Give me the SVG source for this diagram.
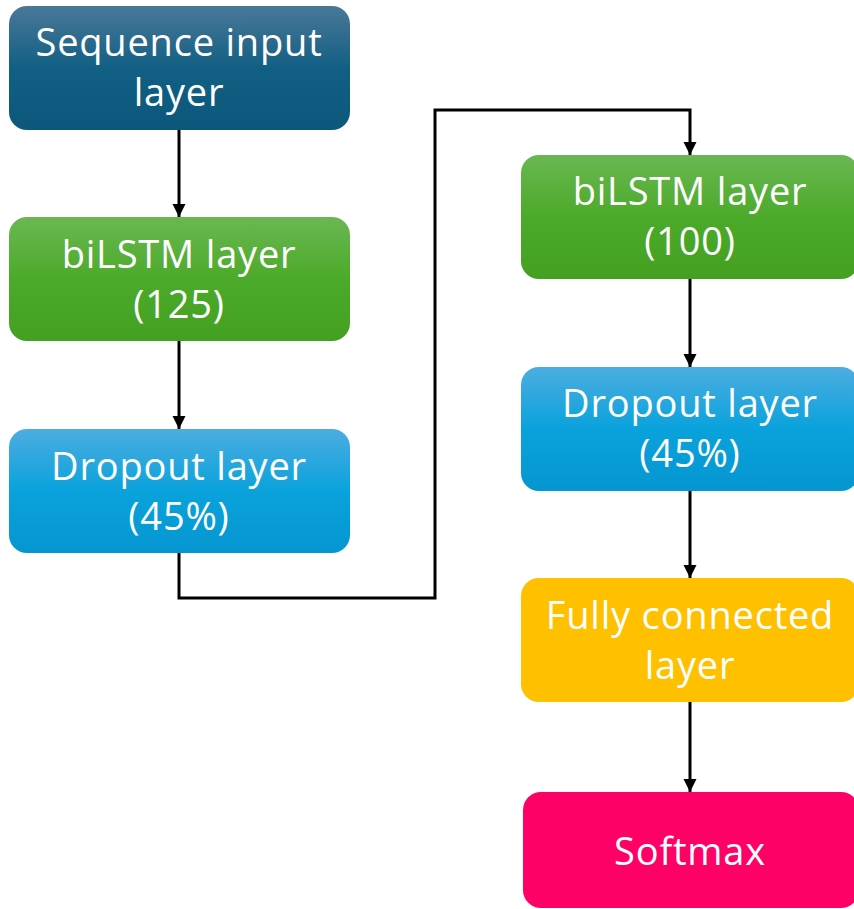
<svg xmlns="http://www.w3.org/2000/svg" width="854" height="909" viewBox="0 0 854 909">
<defs>
<linearGradient id="gNavy" x1="0" y1="0" x2="0" y2="1"><stop offset="0" stop-color="#4a7898"/><stop offset="0.5" stop-color="#125f84"/><stop offset="1" stop-color="#0b587c"/></linearGradient>
<linearGradient id="gGreen" x1="0" y1="0" x2="0" y2="1"><stop offset="0" stop-color="#6ab752"/><stop offset="0.5" stop-color="#4caa2a"/><stop offset="1" stop-color="#43a020"/></linearGradient>
<linearGradient id="gBlue" x1="0" y1="0" x2="0" y2="1"><stop offset="0" stop-color="#4cade0"/><stop offset="0.5" stop-color="#0aa2dc"/><stop offset="1" stop-color="#0596d0"/></linearGradient>
<marker id="arr" viewBox="0 0 10 10" refX="10" refY="5" markerWidth="4.4" markerHeight="4.4" orient="auto" markerUnits="strokeWidth"><path d="M0,0 L10,5 L0,10 z" fill="#000"/></marker>
</defs>
<style>
text{font-family:"Open Sans","Noto Sans",sans-serif;font-size:38px;letter-spacing:0.8px;fill:#fff;text-anchor:middle}
.c{fill:none;stroke:#000;stroke-width:3}
</style>
<rect width="854" height="909" fill="#fff"/>
<g id="connectors">
<path class="c" d="M179,130 V217" marker-end="url(#arr)"/>
<path class="c" d="M179,341 V429" marker-end="url(#arr)"/>
<path class="c" d="M179,553 V598 H435 V110 H690 V155" marker-end="url(#arr)"/>
<path class="c" d="M690,279 V367" marker-end="url(#arr)"/>
<path class="c" d="M690,491 V578" marker-end="url(#arr)"/>
<path class="c" d="M690,702 V792" marker-end="url(#arr)"/>
</g>
<g id="n1"><rect x="9" y="6" width="341" height="124" rx="18" fill="url(#gNavy)"/><text x="179" y="56">Sequence input</text><text x="179" y="106">layer</text></g>
<g id="n2"><rect x="9" y="217" width="341" height="124" rx="18" fill="url(#gGreen)"/><text x="179" y="268">biLSTM layer</text><text x="179" y="318">(125)</text></g>
<g id="n3"><rect x="9" y="429" width="341" height="124" rx="18" fill="url(#gBlue)"/><text x="179" y="480">Dropout layer</text><text x="179" y="530">(45%)</text></g>
<g id="n4"><rect x="521" y="155" width="338" height="124" rx="18" fill="url(#gGreen)"/><text x="690" y="205">biLSTM layer</text><text x="690" y="255">(100)</text></g>
<g id="n5"><rect x="521" y="367" width="338" height="124" rx="18" fill="url(#gBlue)"/><text x="690" y="417">Dropout layer</text><text x="690" y="467">(45%)</text></g>
<g id="n6"><rect x="521" y="578" width="338" height="124" rx="18" fill="#ffc000"/><text x="690" y="629">Fully connected</text><text x="690" y="679">layer</text></g>
<g id="n7"><rect x="523" y="792" width="336" height="116" rx="18" fill="#ff0066"/><text x="690" y="865">Softmax</text></g>
</svg>
